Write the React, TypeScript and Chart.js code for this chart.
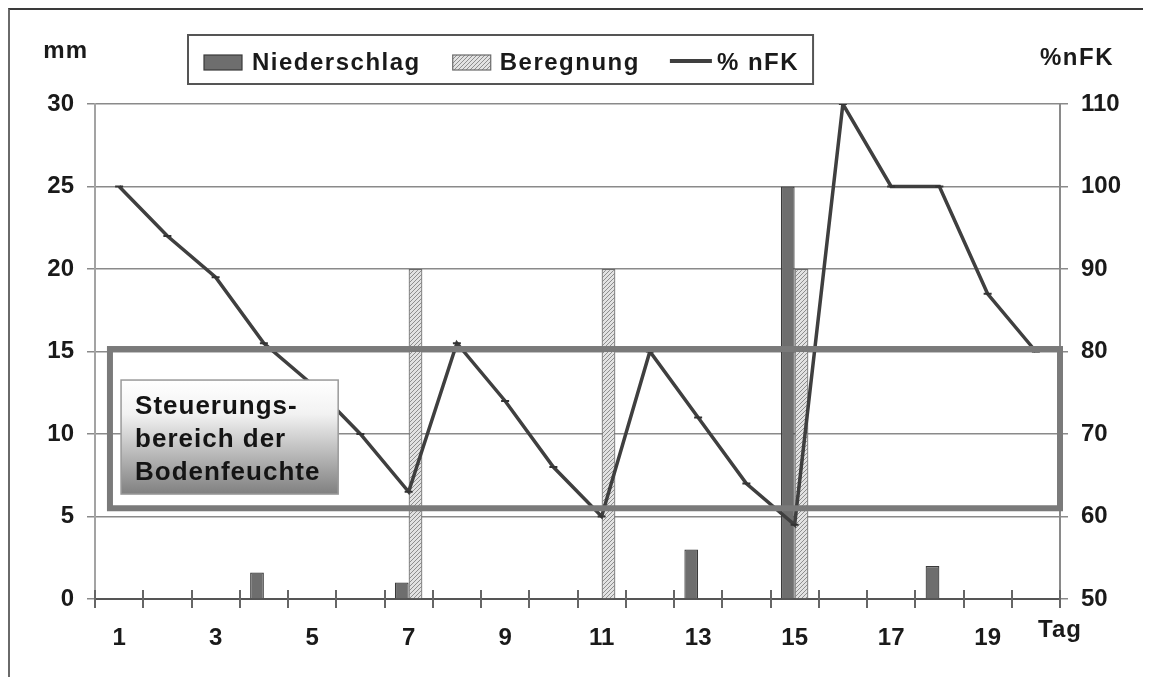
import React, { useEffect, useRef } from 'react';
import { Chart, registerables } from 'chart.js';

Chart.register(...registerables);

// ---- data ----
const days = ['1', '2', '3', '4', '5', '6', '7', '8', '9', '10', '11', '12', '13', '14', '15', '16', '17', '18', '19', '20'];
const niederschlag = [null, null, null, 1.6, null, null, 1, null, null, null, null, null, 3, null, 25, null, null, 2, null, null];
const beregnung = [null, null, null, null, null, null, 20, null, null, null, 20, null, null, null, 20, null, null, null, null, null];
const nfk = [100, 94, 89, 81, 76, 70, 63, 81, 74, 66, 60, 80, 72, 64, 59, 110, 100, 100, 87, 80];
const mmRange = [0, 30];
const mmStep = 5;
const nfkRange = [50, 110];
const nfkStep = 10;
const controlRangeNfk = [61, 80.3];
const controlLabel = ['Steuerungs-', 'bereich der', 'Bodenfeuchte'];
const seriesLabels = ['Niederschlag', 'Beregnung', '% nFK'];
const leftTitle = 'mm';
const rightTitle = '%nFK';
const xTitle = 'Tag';

// ---- layout constants (decoration only) ----
const FONT = '"Liberation Sans", Arial, Helvetica, sans-serif';
const bandStartCat = 0.31;
const noteBox = { x0: 0.54, x1: 5.04, yTop: 13.27, yBottom: 6.36 };

function makeHatch() {
  const c = document.createElement('canvas');
  c.width = 4;
  c.height = 4;
  const g = c.getContext('2d')!;
  g.fillStyle = '#e2e2e2';
  g.fillRect(0, 0, 4, 4);
  g.fillStyle = '#8e8e8e';
  for (let i = 0; i < 4; i++) g.fillRect(i, 3 - i, 1, 1);
  return g.createPattern(c, 'repeat')!;
}

export default function App() {
  const ref = useRef<HTMLCanvasElement>(null);

  useEffect(() => {
    const canvas = ref.current!;
    const hatch = makeHatch();
    const barDark = '#6e6e6e';

    const decor = {
      id: 'decor',
      afterDatasetsDraw(chart: any) {
        const { ctx, scales } = chart;
        const x = scales.x, y = scales.y, y1 = scales.y1;
        const cw = (x.right - x.left) / days.length;
        ctx.save();
        // control band
        const bl = x.left + bandStartCat * cw;
        const br = x.right;
        const bt = y1.getPixelForValue(controlRangeNfk[1]);
        const bb = y1.getPixelForValue(controlRangeNfk[0]);
        ctx.strokeStyle = '#7a7a7a';
        ctx.lineWidth = 6;
        ctx.strokeRect(bl, bt, br - bl, bb - bt);
        // note box
        const nl = x.left + noteBox.x0 * cw;
        const nr = x.left + noteBox.x1 * cw;
        const nt = y.getPixelForValue(noteBox.yTop);
        const nb = y.getPixelForValue(noteBox.yBottom);
        const grad = ctx.createLinearGradient(0, nt, 0, nb);
        grad.addColorStop(0, '#ffffff');
        grad.addColorStop(0.3, '#f2f2f2');
        grad.addColorStop(1, '#808080');
        ctx.fillStyle = grad;
        ctx.fillRect(nl, nt, nr - nl, nb - nt);
        ctx.strokeStyle = '#9a9a9a';
        ctx.lineWidth = 1.5;
        ctx.strokeRect(nl, nt, nr - nl, nb - nt);
        ctx.fillStyle = '#141414';
        ctx.font = `bold 26px ${FONT}`;
        (ctx as any).letterSpacing = '1px';
        ctx.textAlign = 'left';
        ctx.textBaseline = 'alphabetic';
        controlLabel.forEach((t, i) => ctx.fillText(t, nl + 14, nt + 34 + i * 33));
        ctx.restore();
      },
      afterDraw(chart: any) {
        const { ctx, scales, chartArea } = chart;
        const x = scales.x;
        ctx.save();
        // crossing x ticks
        ctx.strokeStyle = '#666';
        ctx.lineWidth = 2;
        for (let i = 0; i <= days.length; i++) {
          const px = Math.round(x.getPixelForValue(i - 0.5));
          ctx.beginPath();
          ctx.moveTo(px, chartArea.bottom - 9);
          ctx.lineTo(px, chartArea.bottom + 9);
          ctx.stroke();
        }
        // axis titles
        ctx.fillStyle = '#1a1a1a';
        ctx.font = `bold 24px ${FONT}`;
        ctx.textBaseline = 'alphabetic';
        (ctx as any).letterSpacing = '1px';
        ctx.textAlign = 'right';
        ctx.fillText(leftTitle, chartArea.left - 7, chartArea.top - 46);
        (ctx as any).letterSpacing = '1.5px';
        ctx.textAlign = 'left';
        ctx.fillText(rightTitle, chartArea.right - 20, chartArea.top - 39);
        (ctx as any).letterSpacing = '1px';
        ctx.textAlign = 'center';
        ctx.fillText(xTitle, chartArea.right, chartArea.bottom + 38);

        // legend
        (ctx as any).letterSpacing = '1.5px';
        ctx.textAlign = 'left';
        const lx = chartArea.left + 93;
        const lt = chartArea.top - 69;
        const lh = 49;
        const base = lt + 35;
        const ds = chart.data.datasets;
        let cx = lx + 16;
        const parts: any[] = [];
        ds.forEach((d: any, i: number) => {
          const sw = d.type === 'line' ? 42 : 38;
          const gap = d.type === 'line' ? 5 : i === 0 ? 10 : 9;
          const tw = ctx.measureText(d.label).width;
          parts.push({ d, sx: cx, sw, tx: cx + sw + gap, tw });
          cx += sw + gap + tw + (i === 0 ? 32 : 30);
        });
        const last = parts[parts.length - 1];
        const lr = last.tx + last.tw + 14;
        ctx.fillStyle = '#ffffff';
        ctx.fillRect(lx, lt, lr - lx, lh);
        ctx.strokeStyle = '#555';
        ctx.lineWidth = 2;
        ctx.strokeRect(lx, lt, lr - lx, lh);
        parts.forEach((p) => {
          if (p.d.type === 'line') {
            ctx.strokeStyle = p.d.borderColor;
            ctx.lineWidth = 4;
            ctx.beginPath();
            ctx.moveTo(p.sx, base - 9);
            ctx.lineTo(p.sx + p.sw, base - 9);
            ctx.stroke();
          } else {
            ctx.fillStyle = p.d.backgroundColor;
            ctx.fillRect(p.sx, base - 15, p.sw, 15);
            ctx.strokeStyle = p.d.borderColor;
            ctx.lineWidth = 1.2;
            ctx.strokeRect(p.sx, base - 15, p.sw, 15);
          }
          ctx.fillStyle = '#1a1a1a';
          ctx.fillText(p.d.label, p.tx, base);
        });
        ctx.restore();
      },
    };

    const tickFont = { family: FONT, size: 24, weight: 'bold' as const };

    const chart = new Chart(canvas, {
      type: 'bar',
      data: {
        labels: days,
        datasets: [
          {
            type: 'bar',
            label: seriesLabels[0],
            data: niederschlag as any,
            backgroundColor: barDark,
            borderColor: '#3a3a3a',
            borderWidth: 1.2,
            yAxisID: 'y',
            categoryPercentage: 0.57,
            barPercentage: 1.0,
            order: 2,
          },
          {
            type: 'bar',
            label: seriesLabels[1],
            data: beregnung as any,
            backgroundColor: hatch as any,
            borderColor: '#6a6a6a',
            borderWidth: 1.2,
            yAxisID: 'y',
            categoryPercentage: 0.57,
            barPercentage: 1.0,
            order: 3,
          },
          {
            type: 'line',
            label: seriesLabels[2],
            data: nfk,
            borderColor: '#3f3f3f',
            backgroundColor: '#3f3f3f',
            borderWidth: 3.5,
            tension: 0,
            pointStyle: 'line',
            pointRadius: 4,
            pointBorderWidth: 2,
            pointBorderColor: '#333',
            yAxisID: 'y1',
            order: 1,
          } as any,
        ],
      },
      options: {
        responsive: false,
        animation: false,
        layout: { padding: { top: 94, left: 0, right: 0, bottom: 0 } },
        plugins: { legend: { display: false }, tooltip: { enabled: false } },
        scales: {
          x: {
            type: 'category',
            offset: true,
            grid: { display: false, drawTicks: false },
            border: { display: true, color: '#555', width: 2 },
            ticks: {
              autoSkip: false,
              maxRotation: 0,
              padding: 25,
              color: '#1a1a1a',
              font: tickFont,
              callback: (_v: any, i: number) => (i % 2 === 0 ? days[i] : ''),
            },
            afterFit: (s: any) => {
              s.height = 78;
            },
          },
          y: {
            position: 'left',
            min: mmRange[0],
            max: mmRange[1],
            ticks: { stepSize: mmStep, padding: 13, color: '#1a1a1a', font: tickFont },
            grid: { color: '#8a8a8a', lineWidth: 1.5, tickLength: 8, drawTicks: true },
            border: { color: '#a3a3a3', width: 2 },
            afterFit: (s: any) => {
              s.width = 85;
            },
          },
          y1: {
            position: 'right',
            min: nfkRange[0],
            max: nfkRange[1],
            ticks: { stepSize: nfkStep, padding: 13, color: '#1a1a1a', font: tickFont },
            grid: { drawOnChartArea: false, color: '#8a8a8a', lineWidth: 1.5, tickLength: 8 },
            border: { color: '#8a8a8a', width: 2 },
            afterFit: (s: any) => {
              s.width = 91;
            },
          },
        },
      },
      plugins: [decor],
    });
    return () => chart.destroy();
  }, []);

  return (
    <div
      style={{
        width: 1143,
        height: 669,
        borderTop: '2px solid #3a3a3a',
        borderLeft: '2px solid #6a6a6a',
        boxSizing: 'border-box',
        background: '#fff',
      }}
    >
      <canvas ref={ref} width={1141} height={667} style={{ display: 'block' }} />
    </div>
  );
}
